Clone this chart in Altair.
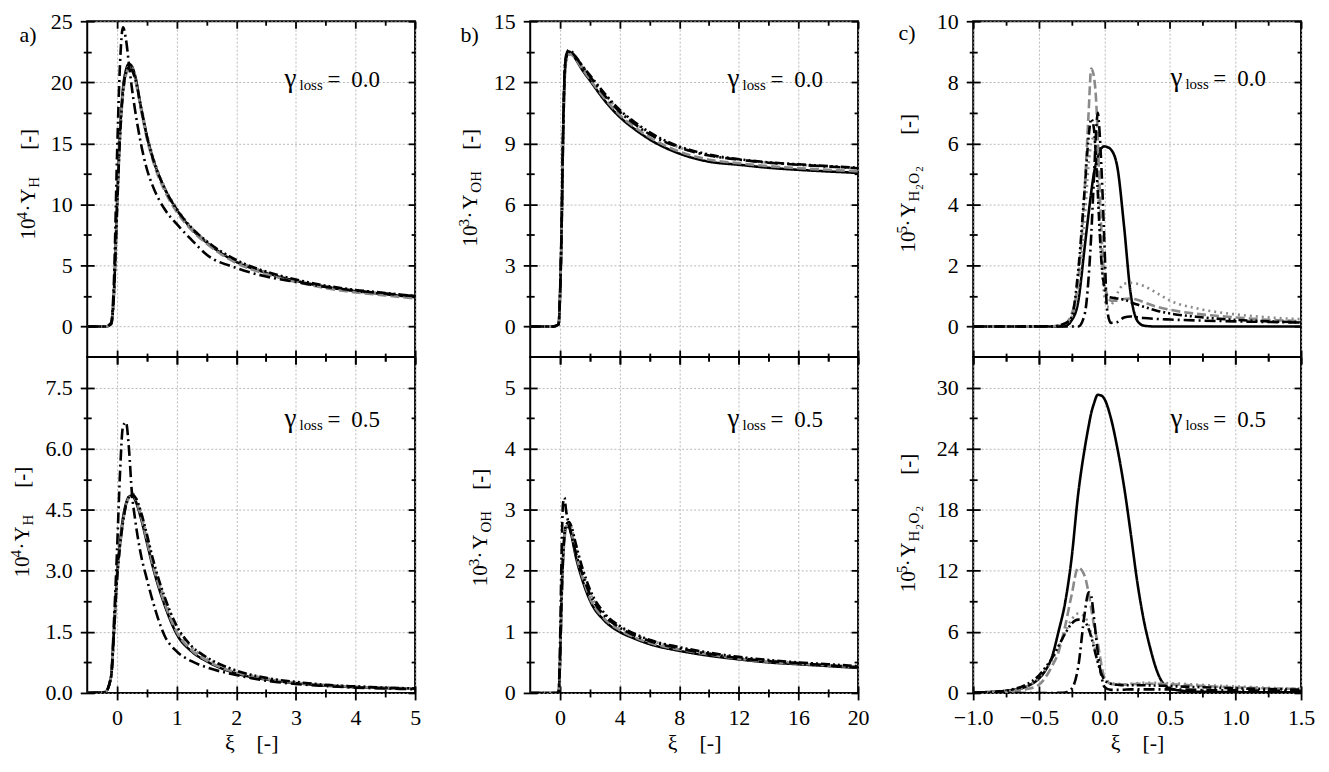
import altair as alt
import pandas as pd

FONT = "Liberation Serif"

# ---------------- data ----------------
SERIES = ["solid", "dashed", "dotted", "dashdot", "dashdotdot"]

# panel a : 10^4 * Y_H
XA = [-0.5, -0.2, -0.1, -0.05, 0.0, 0.05, 0.1, 0.15, 0.2, 0.25, 0.3, 0.4, 0.5, 0.6,
      0.8, 1.0, 1.25, 1.5, 2.0, 2.5, 3.0, 3.5, 4.0, 4.5, 5.0]
A0_SOLID = [0, 0, 0.2, 3.0, 10.0, 16.0, 19.5, 21.0, 21.5, 21.3, 20.6, 18.0, 15.6, 13.8,
            11.3, 9.6, 8.0, 6.9, 5.3, 4.4, 3.75, 3.25, 2.9, 2.65, 2.4]
A0_DASHED = [0, 0, 0.2, 2.8, 9.5, 15.5, 19.0, 20.6, 21.2, 21.0, 20.3, 17.8, 15.4, 13.6,
             11.1, 9.4, 7.9, 6.8, 5.2, 4.3, 3.65, 3.15, 2.8, 2.55, 2.3]
A0_DOTTED = [0, 0, 0.2, 2.8, 9.6, 15.6, 19.2, 20.8, 21.3, 21.2, 20.6, 18.2, 15.8, 14.0,
             11.4, 9.7, 8.1, 7.0, 5.4, 4.45, 3.8, 3.3, 2.95, 2.7, 2.45]
A0_DASHDOT = [0, 0, 0.3, 4.0, 14.0, 21.5, 24.5, 23.5, 21.5, 19.5, 17.8, 15.0, 12.9, 11.5,
              9.6, 8.4, 7.1, 5.9, 4.8, 4.1, 3.65, 3.25, 2.95, 2.7, 2.5]
A0_DASHDOTDOT = [0, 0, 0.2, 2.8, 9.5, 15.5, 19.2, 20.8, 21.2, 21.0, 20.4, 18.0, 15.6, 13.8,
                 11.3, 9.6, 8.1, 7.0, 5.45, 4.5, 3.85, 3.35, 3.0, 2.75, 2.5]

A5_SOLID = [0, 0.02, 0.4, 1.6, 2.9, 3.7, 4.3, 4.65, 4.82, 4.85, 4.75, 4.3, 3.7, 3.1,
            2.15, 1.45, 1.02, 0.78, 0.48, 0.33, 0.24, 0.18, 0.14, 0.12, 0.1]
A5_DASHED = [0, 0.02, 0.4, 1.5, 2.8, 3.6, 4.2, 4.6, 4.8, 4.9, 4.8, 4.35, 3.75, 3.15,
             2.2, 1.5, 1.05, 0.8, 0.5, 0.34, 0.25, 0.19, 0.15, 0.12, 0.1]
A5_DOTTED = [0, 0.02, 0.4, 1.5, 2.8, 3.6, 4.2, 4.6, 4.82, 4.9, 4.85, 4.45, 3.85, 3.25,
             2.3, 1.6, 1.12, 0.85, 0.53, 0.36, 0.26, 0.2, 0.16, 0.13, 0.11]
A5_DASHDOT = [0, 0.02, 0.4, 1.8, 3.5, 5.4, 6.55, 6.65, 6.0, 4.9, 4.3, 3.4, 2.8, 2.25,
              1.4, 1.02, 0.78, 0.63, 0.44, 0.3, 0.22, 0.17, 0.13, 0.11, 0.09]
A5_DASHDOTDOT = [0, 0.02, 0.4, 1.5, 2.8, 3.6, 4.2, 4.6, 4.82, 4.88, 4.82, 4.45, 3.9, 3.3,
                 2.35, 1.65, 1.15, 0.88, 0.55, 0.37, 0.27, 0.2, 0.16, 0.13, 0.11]

# panel b : 10^3 * Y_OH
XB = [-2, -0.5, -0.1, 0.0, 0.1, 0.2, 0.3, 0.4, 0.6, 0.8, 1.0, 1.5, 2, 3, 4, 5, 6, 8,
      10, 12, 14, 16, 18, 20]
B0_SOLID = [0, 0, 0.1, 1.5, 4.5, 9.0, 12.0, 13.1, 13.5, 13.4, 13.2, 12.6, 12.1, 11.1,
            10.3, 9.7, 9.2, 8.5, 8.1, 7.95, 7.8, 7.7, 7.62, 7.55]
B0_DASHED = [0, 0, 0.1, 1.5, 4.5, 9.0, 12.0, 13.0, 13.4, 13.35, 13.2, 12.65, 12.15, 11.2,
             10.4, 9.8, 9.3, 8.6, 8.2, 8.02, 7.88, 7.78, 7.7, 7.63]
B0_DOTTED = [0, 0, 0.1, 1.4, 4.3, 8.8, 11.8, 12.9, 13.35, 13.35, 13.25, 12.75, 12.3, 11.4,
             10.6, 10.0, 9.5, 8.8, 8.4, 8.2, 8.05, 7.95, 7.87, 7.8]
B0_DASHDOT = [0, 0, 0.1, 1.6, 4.8, 9.5, 12.4, 13.3, 13.6, 13.5, 13.3, 12.8, 12.3, 11.35,
              10.55, 9.95, 9.45, 8.8, 8.4, 8.2, 8.05, 7.95, 7.86, 7.78]
B0_DASHDOTDOT = [0, 0, 0.1, 1.5, 4.6, 9.2, 12.2, 13.2, 13.5, 13.45, 13.3, 12.8, 12.35, 11.45,
                 10.65, 10.05, 9.55, 8.85, 8.45, 8.22, 8.07, 7.97, 7.88, 7.8]

B5_SOLID = [0, 0, 0, 0.5, 1.5, 2.2, 2.55, 2.72, 2.72, 2.55, 2.3, 1.85, 1.52, 1.18,
            1.0, 0.89, 0.8, 0.69, 0.61, 0.55, 0.5, 0.47, 0.44, 0.41]
B5_DASHED = [0, 0, 0, 0.5, 1.5, 2.2, 2.55, 2.72, 2.75, 2.6, 2.35, 1.9, 1.56, 1.21,
             1.03, 0.91, 0.82, 0.71, 0.63, 0.56, 0.51, 0.48, 0.45, 0.42]
B5_DOTTED = [0, 0, 0, 0.5, 1.4, 2.1, 2.5, 2.7, 2.78, 2.68, 2.45, 2.0, 1.65, 1.27,
             1.08, 0.95, 0.86, 0.74, 0.65, 0.58, 0.53, 0.49, 0.46, 0.43]
B5_DASHDOT = [0, 0, 0, 0.8, 2.2, 3.1, 3.2, 3.0, 2.75, 2.55, 2.35, 1.95, 1.62, 1.26,
              1.07, 0.94, 0.85, 0.73, 0.64, 0.57, 0.52, 0.49, 0.45, 0.42]
B5_DASHDOTDOT = [0, 0, 0, 0.5, 1.5, 2.2, 2.6, 2.75, 2.8, 2.7, 2.5, 2.05, 1.7, 1.3,
                 1.1, 0.97, 0.87, 0.75, 0.66, 0.59, 0.54, 0.5, 0.47, 0.44]

# panel c : 10^5 * Y_H2O2
XC0 = [-1.0, -0.4, -0.3, -0.25, -0.2, -0.15, -0.12, -0.1, -0.08, -0.06, -0.05, -0.04,
       -0.02, 0.0, 0.02, 0.05, 0.1, 0.15, 0.2, 0.25, 0.3, 0.4, 0.5, 0.7, 1.0, 1.25, 1.5]
C0_SOLID = [0, 0, 0.02, 0.2, 0.8, 2.6, 3.7, 4.4, 5.0, 5.4, 5.55, 5.7, 5.85, 5.9, 5.88,
            5.8, 5.2, 3.3, 1.1, 0.2, 0.03, 0, 0, 0, 0, 0, 0]
C0_DASHED = [0, 0.01, 0.1, 0.4, 1.5, 4.5, 7.0, 8.45, 8.2, 7.2, 6.2, 5.0, 2.9, 1.6, 1.05,
             0.85, 0.85, 0.9, 0.92, 0.88, 0.8, 0.65, 0.55, 0.42, 0.3, 0.22, 0.18]
C0_DOTTED = [0, 0.01, 0.08, 0.3, 1.2, 3.5, 5.3, 6.0, 6.2, 5.6, 4.8, 3.8, 2.0, 1.0, 0.65,
             0.7, 1.1, 1.4, 1.43, 1.4, 1.33, 1.1, 0.85, 0.6, 0.4, 0.3, 0.24]
C0_DASHDOT = [0, 0, 0, 0, 0, 0.4, 1.6, 3.0, 4.8, 6.6, 7.0, 6.6, 5.0, 2.8, 0.6,
              0.12, 0.15, 0.3, 0.33, 0.3, 0.28, 0.25, 0.23, 0.2, 0.17, 0.15, 0.13]
C0_DASHDOTDOT = [0, 0.01, 0.1, 0.3, 1.8, 4.5, 6.2, 6.8, 6.5, 5.2, 4.4, 3.5, 2.0, 1.3, 1.0,
                 0.95, 0.92, 0.88, 0.8, 0.72, 0.65, 0.52, 0.43, 0.32, 0.22, 0.17, 0.14]

XC5 = [-1.0, -0.8, -0.7, -0.6, -0.5, -0.45, -0.4, -0.35, -0.3, -0.25, -0.2, -0.15, -0.12,
       -0.1, -0.08, -0.05, -0.02, 0.0, 0.05, 0.1, 0.15, 0.2, 0.25, 0.3, 0.35, 0.4, 0.45,
       0.5, 0.6, 0.7, 1.0, 1.25, 1.5]
C5_SOLID = [0.05, 0.15, 0.3, 0.6, 1.4, 2.2, 3.5, 6.0, 8.8, 13.2, 19.5, 24.0, 26.2, 27.5,
            28.4, 29.3, 29.2, 28.9, 27.0, 24.0, 20.3, 15.8, 11.0, 7.2, 4.4, 2.2, 0.9, 0.45,
            0.2, 0.12, 0.08, 0.06, 0.05]
C5_DASHED = [0.02, 0.08, 0.15, 0.35, 0.8, 1.5, 2.6, 4.0, 6.5, 9.6, 12.3, 11.5, 9.8, 8.3,
             6.7, 4.9, 2.6, 1.5, 0.9, 0.8, 0.82, 0.85, 0.88, 0.9, 0.9, 0.9, 0.88, 0.85,
             0.8, 0.72, 0.55, 0.45, 0.4]
C5_DOTTED = [0.02, 0.1, 0.25, 0.6, 1.5, 2.3, 3.2, 4.5, 5.9, 7.2, 7.8, 7.5, 6.7, 5.8, 4.8,
             3.2, 2.0, 1.5, 1.0, 0.9, 0.85, 0.9, 0.95, 1.0, 1.0, 1.0, 0.98, 0.95, 0.9,
             0.82, 0.65, 0.5, 0.42]
C5_DASHDOT = [0, 0, 0, 0, 0, 0, 0, 0.02, 0.05, 0.4, 2.5, 7.8, 9.9, 9.5, 7.5, 4.0, 1.5,
              0.6, 0.3, 0.3, 0.32, 0.35, 0.35, 0.35, 0.35, 0.35, 0.35, 0.35, 0.33, 0.3,
              0.25, 0.22, 0.2]
C5_DASHDOTDOT = [0.03, 0.15, 0.35, 0.8, 1.7, 2.5, 3.4, 4.6, 5.8, 6.8, 7.2, 7.0, 6.3, 5.5,
                 4.5, 3.0, 1.8, 1.3, 0.9, 0.8, 0.75, 0.75, 0.75, 0.75, 0.74, 0.72, 0.7,
                 0.68, 0.62, 0.58, 0.45, 0.38, 0.32]

# axis ticks
XA_MAJOR = [0, 1, 2, 3, 4, 5]
XA_MINOR = [0.5, 1.5, 2.5, 3.5, 4.5]
XB_MAJOR = [0, 4, 8, 12, 16, 20]
XB_MINOR = [2, 6, 10, 14, 18]
XC_MAJOR = [-1.0, -0.5, 0.0, 0.5, 1.0, 1.5]
XC_MINOR = [-0.75, -0.25, 0.25, 0.75, 1.25]
YA0_MAJOR = [0, 5, 10, 15, 20, 25]
YA0_MINOR = [2.5, 7.5, 12.5, 17.5, 22.5]
YA5_MAJOR = [0, 1.5, 3.0, 4.5, 6.0, 7.5]
YA5_MINOR = [0.75, 2.25, 3.75, 5.25, 6.75]
YB0_MAJOR = [0, 3, 6, 9, 12, 15]
YB0_MINOR = [1.5, 4.5, 7.5, 10.5, 13.5]
YB5_MAJOR = [0, 1, 2, 3, 4, 5]
YB5_MINOR = [0.5, 1.5, 2.5, 3.5, 4.5]
YC0_MAJOR = [0, 2, 4, 6, 8, 10]
YC0_MINOR = [1, 3, 5, 7, 9]
YC5_MAJOR = [0, 6, 12, 18, 24, 30]
YC5_MINOR = [3, 9, 15, 21, 27]

# ---------------- styles ----------------
COLORS = ["#000000", "#8a8a8a", "#8a8a8a", "#000000", "#000000"]
DASHES = [[1, 0], [9, 4], [2, 4], [11, 4, 2, 4], [9, 3, 2, 3, 2, 3]]
W, H = 329, 337
NB = "\u00a0"


def axis(orient, values, offset, size, labels=False, grid=False, fmt="d", title=None):
    kw = dict(orient=orient, values=values, offset=offset, tickSize=size,
              tickColor="black", tickWidth=1.8, domain=False, grid=grid,
              labels=labels, title=title)
    if labels:
        kw.update(format=fmt, labelFont=FONT, labelFontSize=22, labelColor="black",
                  labelPadding=8, labelFlush=False, labelOverlap=False)
    if grid:
        kw.update(gridColor="#a8a8a8", gridDash=[2, 2], gridWidth=0.8)
    if title:
        kw.update(titleFont=FONT, titleFontSize=22, titleFontWeight="normal",
                  titleColor="black", titlePadding=4)
    return alt.Axis(**kw)


def txt(text, px, py, size, dx=0, dy=0, angle=0):
    return alt.Chart(alt.Data(values=[{}])).mark_text(
        text=text, font=FONT, fontSize=size, dx=dx, dy=dy, angle=angle,
        align="left", baseline="alphabetic", color="black"
    ).encode(x=alt.value(px), y=alt.value(py))


def panel(x, ys, xdom, ydom, xmaj, xmin, ymaj, ymin, yfmt, xfmt, bottom,
          title_segs, tx, ty, gamma, gy, letter):
    rows = []
    for name, yv in zip(SERIES, ys):
        for xi, yi in zip(x, yv):
            rows.append({"xi": xi, "yi": yi, "s": name})
    df = pd.DataFrame(rows)
    xs = alt.Scale(domain=xdom, nice=False, zero=False)
    ysc = alt.Scale(domain=ydom, nice=False, zero=False)
    base = alt.Chart(df)

    lines = base.mark_line(clip=True, strokeWidth=2.6, interpolate="monotone").encode(
        x=alt.X("xi:Q", scale=xs,
                axis=axis("bottom", xmaj, -7, 14, labels=bottom, grid=True, fmt=xfmt,
                          title=("ξ" + NB * 4 + "[-]") if bottom else None)),
        y=alt.Y("yi:Q", scale=ysc,
                axis=axis("left", ymaj, -7, 14, labels=True, grid=True, fmt=yfmt)),
        color=alt.Color("s:N", scale=alt.Scale(domain=SERIES, range=COLORS), legend=None),
        strokeDash=alt.StrokeDash("s:N", scale=alt.Scale(domain=SERIES, range=DASHES),
                                  legend=None),
    )
    inv = base.mark_line(clip=True, strokeOpacity=0)
    l2 = inv.encode(x=alt.X("xi:Q", scale=xs, axis=axis("bottom", xmin, -4, 8)),
                    y=alt.Y("yi:Q", scale=ysc, axis=axis("left", ymin, -4, 8)))
    l3 = inv.encode(x=alt.X("xi:Q", scale=xs, axis=axis("top", xmaj, -7, 7)),
                    y=alt.Y("yi:Q", scale=ysc, axis=axis("right", ymaj, -7, 7)))
    l4 = inv.encode(x=alt.X("xi:Q", scale=xs, axis=axis("top", xmin, -4, 4)),
                    y=alt.Y("yi:Q", scale=ysc, axis=axis("right", ymin, -4, 4)))
    layers = [lines, l2, l3, l4]
    for t, size, dx, dy in title_segs:
        layers.append(txt(t, tx, ty, size, dx=dx, dy=dy, angle=270))
    gx = 198
    layers += [txt("γ", gx, gy, 27), txt("loss", gx, gy, 15, dx=15, dy=3),
               txt("=", gx, gy, 23, dx=43), txt(gamma, gx, gy, 23, dx=67)]
    if letter:
        layers.append(txt(letter[0], letter[1], letter[2], 22))
    return alt.layer(*layers).resolve_axis(x="independent", y="independent").properties(
        width=W, height=H)


TA = [("10", 21, 0, 0), ("4", 15, 20, -8), ("·", 21, 28, 0), ("Y", 21, 36, 0),
      ("H", 15, 52, 4), ("[-]", 21, 90, 0)]
TB = [("10", 21, 0, 0), ("3", 15, 20, -8), ("·", 21, 28, 0), ("Y", 21, 37, 0),
      ("OH", 15, 54, 4), ("[-]", 21, 97, 0)]
TC = [("10", 21, 0, 0), ("5", 15, 19, -8), ("·", 21, 26, 0), ("Y", 21, 35, 0),
      ("H", 15, 51, 4), ("2", 11, 63, 8), ("O", 15, 69, 4), ("2", 11, 81, 8),
      ("[-]", 21, 118, 0)]

a0 = panel(XA, [A0_SOLID, A0_DASHED, A0_DOTTED, A0_DASHDOT, A0_DASHDOTDOT],
           [-0.5, 5], [-2.5, 25], XA_MAJOR, XA_MINOR, YA0_MAJOR, YA0_MINOR, "d", "d",
           False, TA, -52, 219, "0.0", 66, ("a)", -68, 21))
a5 = panel(XA, [A5_SOLID, A5_DASHED, A5_DOTTED, A5_DASHDOT, A5_DASHDOTDOT],
           [-0.5, 5], [0, 8.25], XA_MAJOR, XA_MINOR, YA5_MAJOR, YA5_MINOR, ".1f", "d",
           True, TA, -58, 221, "0.5", 70, None)
b0 = panel(XB, [B0_SOLID, B0_DASHED, B0_DOTTED, B0_DASHDOT, B0_DASHDOTDOT],
           [-2, 20], [-1.5, 15], XB_MAJOR, XB_MINOR, YB0_MAJOR, YB0_MINOR, "d", "d",
           False, TB, -53, 226, "0.0", 66, ("b)", -70, 21))
b5 = panel(XB, [B5_SOLID, B5_DASHED, B5_DOTTED, B5_DASHDOT, B5_DASHDOTDOT],
           [-2, 20], [0, 5.5], XB_MAJOR, XB_MINOR, YB5_MAJOR, YB5_MINOR, "d", "d",
           True, TB, -43, 230, "0.5", 70, None)
c0 = panel(XC0, [C0_SOLID, C0_DASHED, C0_DOTTED, C0_DASHDOT, C0_DASHDOTDOT],
           [-1, 1.5], [-1, 10], XC_MAJOR, XC_MINOR, YC0_MAJOR, YC0_MINOR, "d", ".1f",
           False, TC, -58, 232, "0.0", 65, ("c)", -75, 19))
c5 = panel(XC5, [C5_SOLID, C5_DASHED, C5_DOTTED, C5_DASHDOT, C5_DASHDOTDOT],
           [-1, 1.5], [0, 33], XC_MAJOR, XC_MINOR, YC5_MAJOR, YC5_MINOR, "d", ".1f",
           True, TC, -58, 236, "0.5", 70, None)

chart = alt.concat(a0, b0, c0, a5, b5, c5, columns=3,
                   spacing={"row": 0, "column": 115.5}, bounds="flush").properties(
    padding={"left": 0.5, "top": 0, "right": 5, "bottom": 2},
    background="white",
).configure_view(stroke="black", strokeWidth=2)

chart.save("out.html", embed_options={"renderer": "svg", "actions": False})
